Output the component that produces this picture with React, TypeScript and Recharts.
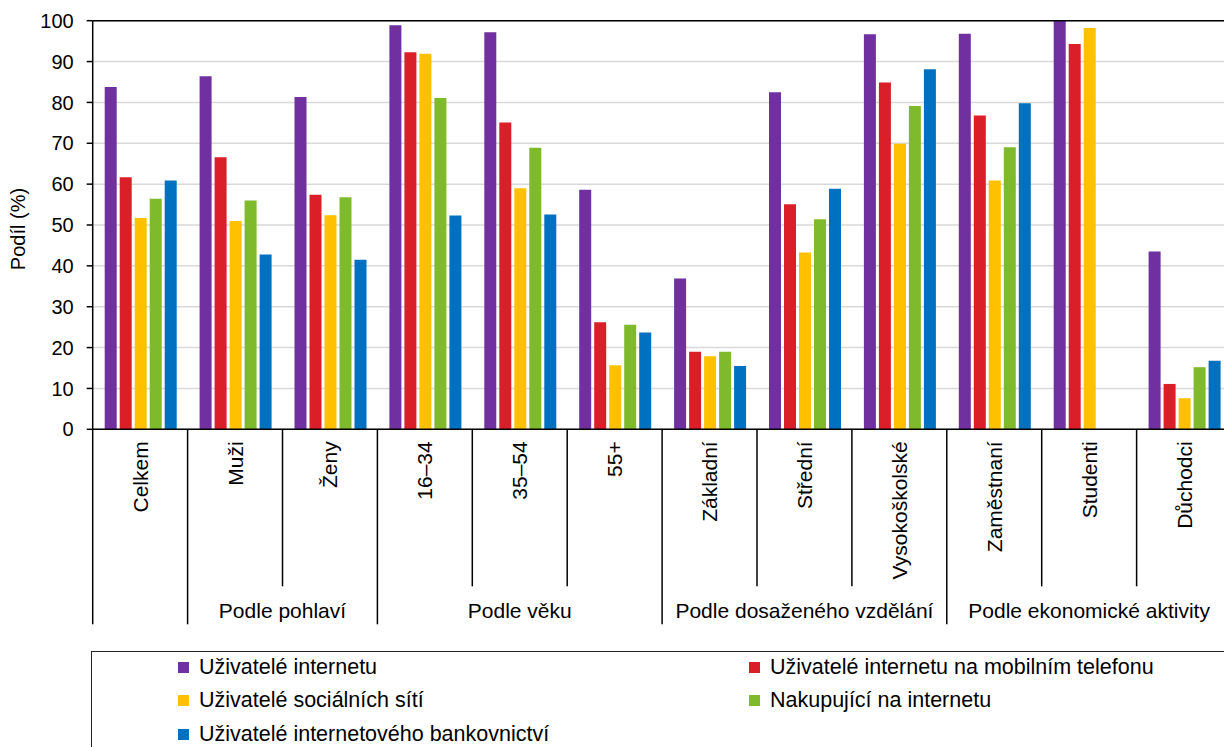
import { BarChart, Bar, XAxis, YAxis, CartesianGrid, ReferenceLine, Legend } from "recharts";

const categories = [
  "Celkem",
  "Muži",
  "Ženy",
  "16–34",
  "35–54",
  "55+",
  "Základní",
  "Střední",
  "Vysokoškolské",
  "Zaměstnaní",
  "Studenti",
  "Důchodci",
];

// group label, number of categories it covers
const groupNames = ["", "Podle pohlaví", "Podle věku", "Podle dosaženého vzdělání", "Podle ekonomické aktivity"];
const groupSpans = [1, 2, 3, 3, 3];

const seriesNames = [
  "Uživatelé internetu",
  "Uživatelé internetu na mobilním telefonu",
  "Uživatelé sociálních sítí",
  "Nakupující na internetu",
  "Uživatelé internetového bankovnictví",
];
const seriesColors = ["#7030A0", "#DA1F28", "#FFC000", "#7FBA2C", "#0070C0"];

const internet = [83.8, 86.4, 81.3, 98.9, 97.2, 58.6, 36.9, 82.5, 96.7, 96.8, 99.9, 43.5];
const mobile = [61.7, 66.6, 57.4, 92.3, 75.1, 26.2, 19.0, 55.1, 84.9, 76.8, 94.3, 11.1];
const social = [51.7, 51.0, 52.4, 91.9, 59.0, 15.7, 17.9, 43.3, 69.9, 60.9, 98.2, 7.6];
const shopping = [56.4, 56.0, 56.8, 81.1, 68.9, 25.6, 19.0, 51.4, 79.1, 69.0, null, 15.2];
const banking = [60.9, 42.8, 41.5, 52.3, 52.6, 23.7, 15.5, 58.9, 88.1, 79.8, null, 16.8];

const yTicks = [0, 10, 20, 30, 40, 50, 60, 70, 80, 90, 100];

const seriesValues = [internet, mobile, social, shopping, banking];
const keys = ["s0", "s1", "s2", "s3", "s4"];

const data = categories.map((name, i) => {
  const row: any = { name };
  keys.forEach((k, s) => {
    row[k] = seriesValues[s][i];
  });
  return row;
});

// index of first category in each group
const groupStarts: number[] = [];
groupSpans.reduce((acc, span) => {
  groupStarts.push(acc);
  return acc + span;
}, 0);

const FONT = "'Liberation Sans', Arial, sans-serif";

const CategoryTick = (props: any) => {
  const { x, y, payload } = props;
  const i = payload.index;
  let half = payload.offset;
  if (!half) half = props.width ? props.width / categories.length / 2 : 47.5;
  const left = x - half;
  const g = groupStarts.indexOf(i);
  const isLast = i === categories.length - 1;
  return (
    <g>
      <line x1={left} x2={left} y1={y} y2={y + (g >= 0 ? 195 : 157)} stroke="#000" strokeWidth={1.5} />
      {isLast && <line x1={x + half} x2={x + half} y1={y} y2={y + 195} stroke="#000" strokeWidth={1.5} />}
      <text
        x={x}
        y={y + 12}
        transform={`rotate(-90 ${x} ${y + 12})`}
        textAnchor="end"
        dominantBaseline="central"
        fontSize={21}
        fontFamily={FONT}
        fill="#000"
      >
        {payload.value}
      </text>
      {g >= 0 && groupNames[g] && (
        <text
          x={left + groupSpans[g] * half}
          y={y + 189}
          textAnchor="middle"
          fontSize={21}
          fontFamily={FONT}
          fill="#000"
        >
          {groupNames[g]}
        </text>
      )}
    </g>
  );
};

const YLabel = (props: any) => {
  const { viewBox } = props;
  const cx = viewBox.x + 18;
  const cy = viewBox.y + viewBox.height / 2 + 4;
  return (
    <text
      x={cx}
      y={cy}
      transform={`rotate(-90 ${cx} ${cy})`}
      textAnchor="middle"
      dominantBaseline="central"
      fontSize={20}
      fontFamily={FONT}
      fill="#000"
    >
      Podíl (%)
    </text>
  );
};

const LegendBox = () => {
  const item = (s: number) => (
    <div key={s} style={{ display: "flex", alignItems: "center", height: 33.3 }}>
      <span style={{ width: 11, height: 11, background: seriesColors[s], marginRight: 10, flexShrink: 0 }} />
      <span>{seriesNames[s]}</span>
    </div>
  );
  return (
    <div
      style={{
        border: "1.5px solid #222",
        width: 1200,
        height: 120,
        boxSizing: "border-box",
        fontFamily: FONT,
        fontSize: 21.5,
        color: "#000",
        position: "relative",
      }}
    >
      <div style={{ position: "absolute", left: 86, top: -1 }}>
        {item(0)}
        {item(2)}
        {item(4)}
      </div>
      <div style={{ position: "absolute", left: 657, top: -1 }}>
        {item(1)}
        {item(3)}
      </div>
    </div>
  );
};

export default function App() {
  return (
    <div
      style={{
        position: "fixed",
        left: 0,
        top: 0,
        width: 1224,
        height: 747,
        overflow: "hidden",
        background: "#fff",
      }}
    >
      <BarChart
        width={1240}
        height={747}
        data={data}
        margin={{ top: 20.7, right: 8.5, left: 0, bottom: 117.7 }}
        barGap={3}
        barCategoryGap={12}
      >
        <CartesianGrid vertical={false} stroke="#d9d9d9" strokeWidth={1.5} />
        <YAxis
          width={92.7}
          domain={[0, 100]}
          ticks={yTicks}
          interval={0}
          axisLine={{ stroke: "#000", strokeWidth: 1.5 }}
          tickLine={{ stroke: "#000", strokeWidth: 1.5 }}
          tickSize={6}
          tickMargin={13}
          tick={{ fontSize: 20, fontFamily: FONT, fill: "#000" }}
          label={<YLabel />}
        />
        <XAxis
          dataKey="name"
          height={200}
          interval={0}
          tickSize={0}
          tickMargin={0}
          tickLine={false}
          axisLine={{ stroke: "#000", strokeWidth: 1.5 }}
          tick={<CategoryTick />}
        />
        <ReferenceLine y={100} stroke="#000" strokeWidth={1.5} ifOverflow="visible" />
        {keys.map((k, s) => (
          <Bar key={k} dataKey={k} name={seriesNames[s]} fill={seriesColors[s]} isAnimationActive={false} />
        ))}
        <Legend
          layout="horizontal"
          verticalAlign="middle"
          align="center"
          content={<LegendBox />}
          wrapperStyle={{ position: "absolute", left: 91, top: 651, width: 1200, height: 120 }}
        />
      </BarChart>
    </div>
  );
}
